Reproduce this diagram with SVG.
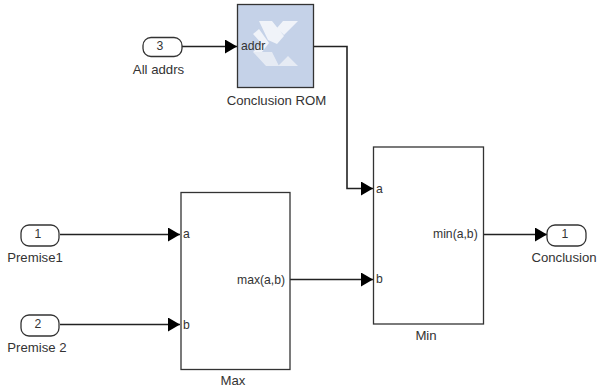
<svg xmlns="http://www.w3.org/2000/svg" width="598" height="390" viewBox="0 0 598 390">
<style>
.b{fill:#fff;stroke:#333;stroke-width:1.3}
.p{fill:#fff;stroke:#333;stroke-width:1.3}
.c{fill:none;stroke:#222;stroke-width:1.6}
text{font-family:"Liberation Sans",Arial,sans-serif;font-size:13.2px;fill:#333}
.s{font-size:12.2px}
.m{text-anchor:middle}
</style>
<defs>
<marker id="a" markerUnits="userSpaceOnUse" markerWidth="13" markerHeight="14" refX="12" refY="7" orient="auto"><path d="M0,0L12,7L0,14z" fill="#000"/></marker>
</defs>
<rect width="598" height="390" fill="#fff"/>
<g id="connectors">
<path class="c" d="M182,46.500H237" marker-end="url(#a)"/>
<path class="c" d="M314,46.500H347V188.500H373" marker-end="url(#a)"/>
<path class="c" d="M60,234.500H180" marker-end="url(#a)"/>
<path class="c" d="M60,324.500H180" marker-end="url(#a)"/>
<path class="c" d="M290,279.500H373" marker-end="url(#a)"/>
<path class="c" d="M483,234.500H547" marker-end="url(#a)"/>
</g>
<g id="in3"><rect class="p" x="143" y="37.500" width="39" height="19" rx="8"/><text class="m s" x="160" y="50">3</text><text class="m" x="158.500" y="74">All addrs</text></g>
<g id="rom">
<rect x="237.500" y="4.500" width="76" height="83" fill="#c5d2e8" stroke="#333" stroke-width="1.300"/>
<path d="M259,21H272L284,36L277,44L268,40ZM277,28L283,21H298L284,35ZM253,34L259,29L269,43L262,52H253L262,44Z" fill="#f0f3f9"/>
<path d="M253,52H272L279,66H266ZM278,66L288,56L298,66Z" fill="#e6ebf4"/>
<text class="s" x="241" y="50">addr</text>
<text class="m" x="276.500" y="105">Conclusion ROM</text>
</g>
<g id="in1"><rect class="p" x="21" y="225" width="38" height="21" rx="8"/><text class="m s" x="38" y="238">1</text><text class="m" x="35" y="262">Premise1</text></g>
<g id="in2"><rect class="p" x="21" y="315" width="38" height="21" rx="8"/><text class="m s" x="38" y="328">2</text><text class="m" x="37" y="352">Premise 2</text></g>
<g id="max"><rect class="b" x="181" y="192.500" width="109" height="177"/><text class="s" x="183" y="238">a</text><text class="s" x="183" y="329">b</text><text class="s" x="237" y="284">max(a,b)</text><text class="m" x="233" y="385">Max</text></g>
<g id="min"><rect class="b" x="373.500" y="147" width="110" height="177"/><text class="s" x="376" y="193">a</text><text class="s" x="376" y="283">b</text><text class="s" x="433" y="238">min(a,b)</text><text class="m" x="426" y="340">Min</text></g>
<g id="out1"><rect class="p" x="547" y="225" width="39" height="21" rx="8"/><text class="m s" x="565" y="238">1</text><text class="m" x="564" y="262">Conclusion</text></g>
</svg>
